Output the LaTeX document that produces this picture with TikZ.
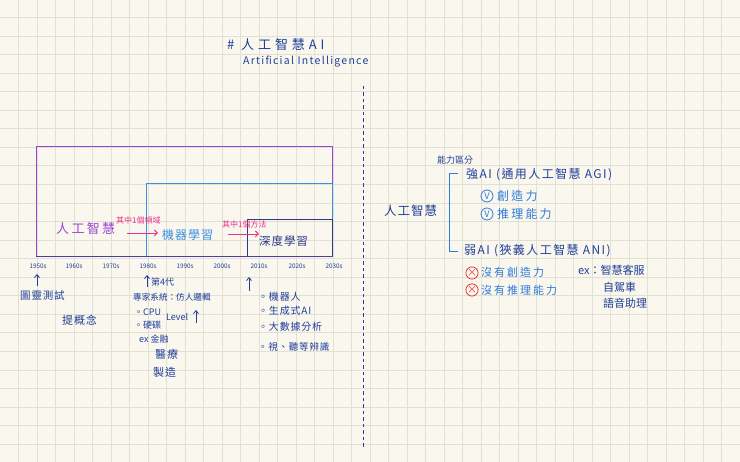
\documentclass[tikz,border=0pt]{standalone}
\usepackage{fontspec}
\setmainfont{Noto Sans CJK TC}
\newfontfamily\widefont[LetterSpace=18]{Noto Sans CJK TC}
\newfontfamily\midfont[LetterSpace=8]{Noto Sans CJK TC}
\newfontfamily\titlefont[LetterSpace=30]{Noto Sans CJK TC}
\newfontfamily\subfont[LetterSpace=12]{Noto Sans CJK TC}
\newfontfamily\longfont[LetterSpace=12]{Noto Sans CJK TC}
\usetikzlibrary{arrows.meta}
\definecolor{paper}{HTML}{F9F7EE}
\definecolor{gridc}{HTML}{E2E0D3}
\definecolor{ink}{HTML}{1F3F99}
\definecolor{bright}{HTML}{2F7BDD}
\definecolor{aipurple}{HTML}{9B45D8}
\definecolor{mlblue}{HTML}{3A8FE0}
\definecolor{dlnavy}{HTML}{2B3A8C}
\definecolor{pinkc}{HTML}{E8318C}
\definecolor{redc}{HTML}{E33A3A}
\tikzset{
  txt/.style={inner sep=0pt, anchor=west, text=ink},
  fs/.style={font=\fontsize{#1}{#1}\selectfont},
  wfs/.style={font=\fontsize{#1}{#1}\selectfont\widefont},
  mfs/.style={font=\fontsize{#1}{#1}\selectfont\midfont},
  lfs/.style={font=\fontsize{#1}{#1}\selectfont\longfont},
  decade/.style={inner sep=0pt, anchor=center, text=ink, font=\fontsize{6.3}{6.3}\selectfont},
  boxn/.style={draw, line width=1pt, inner sep=0pt, anchor=south east},
  uparrow/.style={draw=ink, line width=0.8pt, -{Straight Barb[length=3pt,width=5pt]}},
  pinkarrow/.style={draw=pinkc, line width=0.9pt, -{Straight Barb[length=3pt,width=6pt]}},
  vmark/.style={circle, draw=bright, line width=0.8pt, inner sep=0pt, minimum size=12pt, text=bright, font=\fontsize{9}{9}\selectfont},
  xmark/.style={circle, draw=redc, line width=0.8pt, inner sep=0pt, minimum size=12pt, text=redc, font=\fontsize{10}{10}\selectfont},
  gridline/.style={draw=gridc, line width=0.9pt}
}
\begin{document}
\begin{tikzpicture}[x=1pt,y=-1pt]
\useasboundingbox (0,0) rectangle (740,462);
\fill[paper] (0,0) rectangle (740,462);
\foreach \i in {1,...,39} {\draw[gridline] (\i*18.5,0) -- (\i*18.5,462);}
\foreach \j in {1,...,24} {\draw[gridline] (0,\j*18.55-1) -- (740,\j*18.55-1);}

% title
\node[txt, font=\fontsize{13}{13}\selectfont\titlefont] (title) at (227,45) {\# 人工智慧AI};
\node[txt, font=\fontsize{10.5}{10.5}\selectfont\subfont] (subtitle) at (243,62) {Artificial Intelligence};

% divider
\coordinate (divtop) at (363,86);
\coordinate (divbot) at (363,448);
\draw[ink, line width=1pt, dash pattern=on 3.5pt off 3pt] (divtop) -- (divbot);

% nested boxes
\node[boxn, draw=aipurple, minimum width=296pt, minimum height=110pt] (aibox) at (333,257) {};
\node[boxn, draw=mlblue, minimum width=186pt, minimum height=73pt] (mlbox) at (333,257) {};
\node[boxn, draw=dlnavy, minimum width=85pt, minimum height=37pt] (dlbox) at (333,257) {};
\draw[line width=1pt, draw=dlnavy!70!aipurple] (aibox.south west) -- (aibox.south east);

\node[txt, text=aipurple, wfs=13] (ai) at (56,229) {人工智慧};
\node[txt, text=mlblue, mfs=12] (ml) at (162,235) {機器學習};
\node[txt, text=dlnavy, mfs=11.5] (dl) at (259,241) {深度學習};
\node[txt, text=pinkc, fs=8] (lbl1) at (116,220) {其中1個領域};
\node[txt, text=pinkc, fs=8] (lbl2) at (222,224) {其中1個方法};
\coordinate (a1s) at (127,233);
\coordinate (a1e) at (158,233);
\coordinate (a2s) at (228,234);
\coordinate (a2e) at (259,234);
\draw[pinkarrow] (a1s) -- (a1e);
\draw[pinkarrow] (a2s) -- (a2e);

% decades
\node[decade] (d1950) at (38,266) {1950s};
\node[decade] (d1960) at (74,266) {1960s};
\node[decade] (d1970) at (111,266) {1970s};
\node[decade] (d1980) at (148,266) {1980s};
\node[decade] (d1990) at (185,266) {1990s};
\node[decade] (d2000) at (222,266) {2000s};
\node[decade] (d2010) at (259,266) {2010s};
\node[decade] (d2020) at (297,266) {2020s};
\node[decade] (d2030) at (334,266) {2030s};

% 1950s notes
\coordinate (u1s) at (37,286);
\coordinate (u1e) at (37,274);
\draw[uparrow] (u1s) -- (u1e);
\node[txt, mfs=10.5] (turing) at (20,296) {圖靈測試};
\node[txt, mfs=11] (concept) at (62,320) {提概念};

% 1980s notes
\coordinate (u2s) at (147,287);
\coordinate (u2e) at (147,275);
\draw[uparrow] (u2s) -- (u2e);
\node[txt, fs=9] (gen4) at (151,282) {第4代};
\node[txt, fs=8.6] (expert) at (133,297) {專家系統：仿人邏輯};
\node[txt, fs=9] (cpu) at (134,312) {。CPU};
\node[txt, fs=9] (disk) at (134,325) {。硬碟};
\node[txt, fs=9] (level) at (166,317) {Level};
\coordinate (u3s) at (196,323);
\coordinate (u3e) at (196,310);
\draw[uparrow] (u3s) -- (u3e);
\node[txt, fs=9] (exfin) at (139,339) {ex 金融};
\node[txt, mfs=11] (med) at (155,354) {醫療};
\node[txt, mfs=11] (manu) at (153,372) {製造};

% 2010s notes
\coordinate (u4s) at (249,291);
\coordinate (u4e) at (249,277);
\draw[uparrow] (u4s) -- (u4e);
\node[txt, mfs=10] (robot) at (258,297) {。機器人};
\node[txt, mfs=10] (genai) at (258,311) {。生成式AI};
\node[txt, mfs=10] (bigdata) at (258,327) {。大數據分析};
\node[txt, mfs=9.5] (vision) at (258,347) {。視、聽等辨識};

% right side
\node[txt, fs=9] (split) at (437,160) {能力區分};
\node[txt, lfs=12] (strong) at (466,175) {強AI (通用人工智慧 AGI)};
\node[txt, lfs=12] (weak) at (464,251) {弱AI (狹義人工智慧 ANI)};
\node[txt, mfs=12.5] (airight) at (384,211) {人工智慧};
\coordinate (brtop) at (458,174);
\coordinate (brbot) at (458,252);
\draw[bright, line width=1pt] (brtop) -- ++(-9,0) |- (brbot);

\node[vmark] (v1) at (487,196) {V};
\node[txt, text=bright, wfs=12] (create) at (497,196) {創造力};
\node[vmark] (v2) at (487,214) {V};
\node[txt, text=bright, wfs=12] (reason) at (497,214) {推理能力};

\node[xmark] (x1) at (472,273) {×};
\node[txt, text=bright, wfs=11] (nocreate) at (481,272) {沒有創造力};
\node[xmark] (x2) at (472,290) {×};
\node[txt, text=bright, wfs=11] (noreason) at (481,290) {沒有推理能力};

\node[txt, fs=11] (exai) at (578,270) {ex：智慧客服};
\node[txt, fs=11] (car) at (603,287) {自駕車};
\node[txt, fs=11] (voice) at (603,303) {語音助理};
\end{tikzpicture}
\end{document}
